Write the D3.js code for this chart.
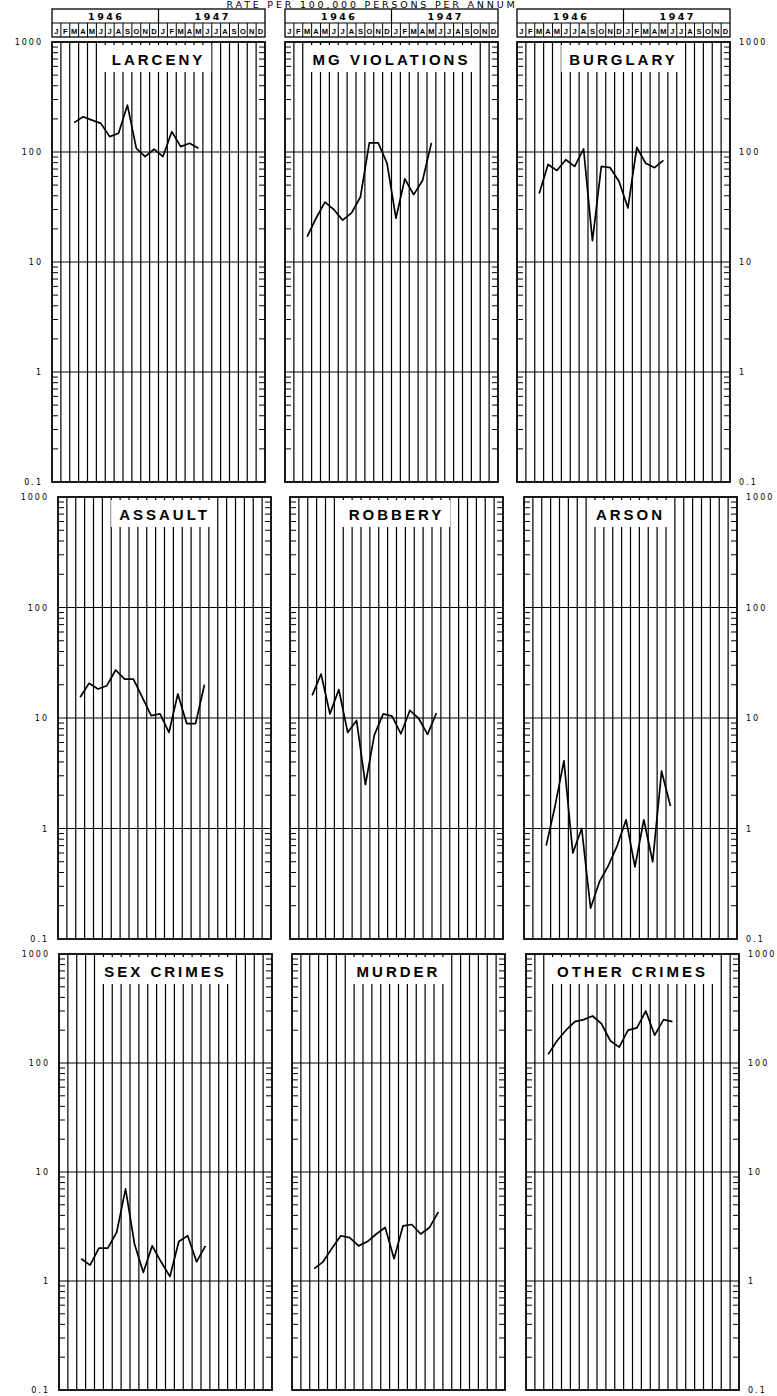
<!DOCTYPE html>
<html>
<head>
<meta charset="utf-8">
<script src="https://cdn.jsdelivr.net/npm/d3@7"></script>
<style>
  body { margin: 0; background: #fff; }
  svg { display: block; }
</style>
</head>
<body>
<svg id="chart" width="777" height="1396"></svg>
<script>
// month letters for the two years shown on each panel
const months = ['J','F','M','A','M','J','J','A','S','O','N','D','J','F','M','A','M','J','J','A','S','O','N','D'];
const years = ['1946', '1947'];
const yTicks = [1000, 100, 10, 1, 0.1];
const yTickLabels = ['1000', '100', '10', '1', '0.1'];
const startMonth = 2; // first plotted month is March 1946

// rates per 100,000 persons per annum, Mar 1946 .. May 1947
const larceny      = [185, 209, 195, 182, 138, 148, 267, 108, 91, 106, 91, 153, 112, 120, 108];
const mgViolations = [17, 25, 35, 30, 24, 28, 39, 121, 121, 79, 25, 57, 41, 55, 121];
const burglary     = [42, 77, 68, 85, 74, 107, 15.6, 74, 72, 54, 31, 110, 79, 72, 84];
const assault      = [15.4, 20.6, 18.3, 19.6, 27.2, 22.5, 22.5, 15.4, 10.5, 10.9, 7.4, 16.5, 8.9, 8.9, 20];
const robbery      = [16, 25, 10.9, 18.1, 7.4, 9.5, 2.5, 7.0, 10.9, 10.4, 7.2, 11.7, 9.9, 7.1, 11.1];
const arson        = [0.7, 1.6, 4.1, 0.6, 1.0, 0.19, 0.33, 0.46, 0.7, 1.2, 0.45, 1.2, 0.5, 3.3, 1.6];
const sexCrimes    = [1.6, 1.4, 2.0, 2.0, 2.8, 7.0, 2.2, 1.2, 2.1, 1.5, 1.1, 2.3, 2.6, 1.5, 2.1];
const murder       = [1.3, 1.5, 2.0, 2.6, 2.5, 2.1, 2.3, 2.7, 3.1, 1.6, 3.2, 3.3, 2.7, 3.1, 4.3];
const otherCrimes  = [120, 160, 200, 240, 250, 270, 230, 160, 140, 200, 210, 300, 180, 250, 240];

const titles = ['LARCENY', 'MG VIOLATIONS', 'BURGLARY',
                'ASSAULT', 'ROBBERY', 'ARSON',
                'SEX CRIMES', 'MURDER', 'OTHER CRIMES'];
const seriesList = [larceny, mgViolations, burglary,
                    assault, robbery, arson,
                    sexCrimes, murder, otherCrimes];

// layout (the scan is slightly skewed so each row sits a bit differently)
const rowTop = [42, 497, 954];
const rowHeight = [440, 442, 436];
const rowLeft = [[52, 285, 517], [58, 290, 524], [59, 292, 526]];
const panelW = 213;

const svg = d3.select('#chart');

// page title at the top edge of the scan
svg.append('text')
    .attr('x', 372).attr('y', 8)
    .attr('text-anchor', 'middle')
    .attr('font-family', 'DejaVu Sans, sans-serif')
    .attr('font-size', 9.5)
    .attr('letter-spacing', 2.8)
    .text('RATE PER 100,000 PERSONS PER ANNUM');

seriesList.forEach((values, idx) => {
    const row = Math.floor(idx / 3), col = idx % 3;
    const left = rowLeft[row][col], top = rowTop[row];
    const panelH = rowHeight[row];

    const x = d3.scaleLinear().domain([0, 24]).range([0, panelW]);
    const y = d3.scaleLog().domain([0.1, 1000]).range([panelH, 0]);

    const g = svg.append('g')
        .attr('transform', 'translate(' + left + ',' + top + ')');

    // month lines
    g.selectAll('.month')
        .data(d3.range(1, 24))
        .enter().append('line')
        .attr('x1', d => x(d)).attr('x2', d => x(d))
        .attr('y1', 0).attr('y2', panelH)
        .attr('stroke', '#000')
        .attr('stroke-width', 1.2);

    // decade lines
    g.selectAll('.decade')
        .data([100, 10, 1])
        .enter().append('line')
        .attr('x1', 0).attr('x2', panelW)
        .attr('y1', d => y(d)).attr('y2', d => y(d))
        .attr('stroke', '#000')
        .attr('stroke-width', 1.2);

    // minor log ticks on both edges
    const minor = [];
    [0.1, 1, 10, 100].forEach(d => d3.range(2, 10).forEach(m => minor.push(d * m)));
    g.selectAll('.minorL')
        .data(minor)
        .enter().append('line')
        .attr('x1', 0).attr('x2', 6)
        .attr('y1', d => y(d)).attr('y2', d => y(d))
        .attr('stroke', '#000');
    g.selectAll('.minorR')
        .data(minor)
        .enter().append('line')
        .attr('x1', panelW - 6).attr('x2', panelW)
        .attr('y1', d => y(d)).attr('y2', d => y(d))
        .attr('stroke', '#000');

    // title in a white box
    const label = g.append('text')
        .attr('x', panelW / 2).attr('y', 23)
        .attr('text-anchor', 'middle')
        .attr('font-family', 'Liberation Sans, Arial, sans-serif')
        .attr('font-weight', 'bold')
        .attr('font-size', 15)
        .attr('letter-spacing', 3)
        .text(titles[idx]);
    const bb = label.node().getBBox();
    g.insert('rect', 'text')
        .attr('x', bb.x - 8).attr('y', 3)
        .attr('width', bb.width + 14).attr('height', 27)
        .attr('fill', '#fff');

    // frame
    g.append('rect')
        .attr('width', panelW).attr('height', panelH)
        .attr('fill', 'none')
        .attr('stroke', '#000')
        .attr('stroke-width', 1.8);

    // the data line
    const line = d3.line()
        .x((d, i) => x(startMonth + i + 0.5))
        .y(d => y(d));
    g.append('path')
        .datum(values)
        .attr('d', line)
        .attr('fill', 'none')
        .attr('stroke', '#000')
        .attr('stroke-width', 1.7)
        .attr('stroke-linejoin', 'round');

    // y axis labels on the outer columns
    if (col === 0 || col === 2) {
        const axis = (col === 0 ? d3.axisLeft(y) : d3.axisRight(y))
            .tickValues(yTicks)
            .tickFormat((d, i) => yTickLabels[i])
            .tickSize(0)
            .tickPadding(9);
        const ax = g.append('g')
            .attr('transform', col === 0 ? 'translate(0,0)' : 'translate(' + panelW + ',0)')
            .call(axis);
        ax.select('.domain').remove();
        ax.selectAll('text')
            .attr('font-family', 'DejaVu Sans, sans-serif')
            .attr('font-size', 8)
            .attr('letter-spacing', 2)
            .attr('fill', '#000');
    }

    // year and month header on the top row
    if (row === 0) {
        const hg = g.append('g').attr('transform', 'translate(0,-33)');
        hg.append('rect')
            .attr('width', panelW).attr('height', 28)
            .attr('fill', '#fff')
            .attr('stroke', '#000')
            .attr('stroke-width', 1.3);
        hg.append('line')
            .attr('x1', 0).attr('x2', panelW)
            .attr('y1', 14).attr('y2', 14)
            .attr('stroke', '#000').attr('stroke-width', 1.2);
        hg.append('line')
            .attr('x1', x(12)).attr('x2', x(12))
            .attr('y1', 0).attr('y2', 14)
            .attr('stroke', '#000').attr('stroke-width', 1.2);
        hg.selectAll('.yr')
            .data(years)
            .enter().append('text')
            .attr('x', (d, i) => x(i * 12 + 6) + 1)
            .attr('y', 11)
            .attr('text-anchor', 'middle')
            .attr('font-family', 'DejaVu Sans, sans-serif')
            .attr('font-weight', 'bold')
            .attr('font-size', 9.5)
            .attr('letter-spacing', 2.5)
            .text(d => d);
        hg.selectAll('.mline')
            .data(d3.range(1, 24))
            .enter().append('line')
            .attr('x1', d => x(d)).attr('x2', d => x(d))
            .attr('y1', 14).attr('y2', 28)
            .attr('stroke', '#000');
        hg.selectAll('.mon')
            .data(months)
            .enter().append('text')
            .attr('x', (d, i) => x(i + 0.5))
            .attr('y', 24.5)
            .attr('text-anchor', 'middle')
            .attr('font-family', 'Liberation Sans, Arial, sans-serif')
            .attr('font-weight', 'bold')
            .attr('font-size', 7.5)
            .text(d => d);
    }
});
</script>
</body>
</html>
